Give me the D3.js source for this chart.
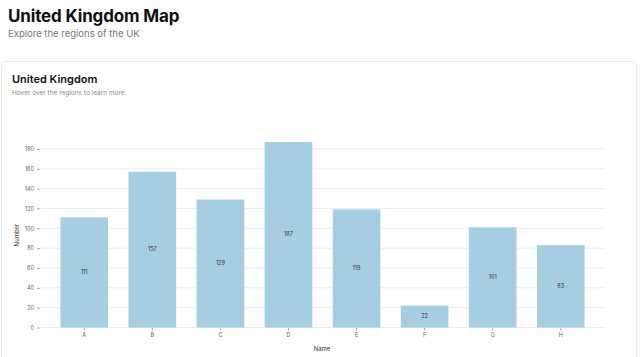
<!DOCTYPE html>
<html><head><meta charset="utf-8">
<script src="https://cdn.jsdelivr.net/npm/d3@7"></script>
<style>
html,body{margin:0;padding:0;background:#fff;font-family:Inter,"Noto Sans",sans-serif;overflow:hidden;}
#title{position:absolute;left:8px;top:6px;font-size:17px;font-weight:700;color:#111;margin:0;line-height:20px;letter-spacing:-0.15px;}
#sub{position:absolute;left:8px;top:28px;font-size:9.5px;color:#777;margin:0;line-height:12px;}
#card{position:absolute;left:1px;top:61px;width:634px;height:320px;border:1px solid #ececec;border-radius:4px;background:#fff;}
#ctitle{position:absolute;left:12px;top:71.5px;font-size:11px;font-weight:600;color:#111;line-height:14px;}
#csub{position:absolute;left:12px;top:89px;font-size:6.5px;color:#888;line-height:8px;}
svg{position:absolute;left:0;top:0;}
</style></head><body>
<div id="title">United Kingdom Map</div>
<div id="sub">Explore the regions of the UK</div>
<div id="card"></div>
<div id="ctitle">United Kingdom</div>
<div id="csub">Hover over the regions to learn more.</div>
<svg id="chart" width="640" height="357"></svg>
<script>
const names = ["A","B","C","D","E","F","G","H"];
const values = [111,157,129,187,119,22,101,83];
const yTicks = [0,20,40,60,80,100,120,140,160,180];

const svg = d3.select("#chart");
const x = d3.scaleBand().domain(names).range([40,605]).padding(0.3);
const y = d3.scaleLinear().domain([0,187]).range([327.5,142]);

// grid
svg.append("g").selectAll("line").data(yTicks).join("line")
  .attr("x1",40).attr("x2",605)
  .attr("y1",d=>y(d)).attr("y2",d=>y(d))
  .attr("stroke","#eeeeee").attr("stroke-width",1);

// y axis
const ya = svg.append("g").attr("transform","translate(40,0)")
  .call(d3.axisLeft(y).tickValues(yTicks).tickSize(3).tickPadding(3));
ya.select(".domain").remove();
ya.selectAll("line").attr("stroke","#aaa");
ya.selectAll("text").attr("font-size",5.5).attr("fill","#666").attr("font-family","Inter,sans-serif");

// x axis
const xa = svg.append("g").attr("transform","translate(0,327.5)")
  .call(d3.axisBottom(x).tickSize(3).tickPadding(3));
xa.select(".domain").remove();
xa.selectAll("line").attr("stroke","#aaa");
xa.selectAll("text").attr("font-size",5.5).attr("fill","#666").attr("font-family","Inter,sans-serif");

const data = names.map((n,i)=>({n, v: values[i]}));
svg.append("g").selectAll("rect").data(data).join("rect")
  .attr("x",d=>x(d.n)).attr("width",x.bandwidth())
  .attr("y",d=>y(d.v)).attr("height",d=>y(0)-y(d.v))
  .attr("fill","#a6cee3");

svg.append("g").selectAll("text").data(data).join("text")
  .attr("x",d=>x(d.n)+x.bandwidth()/2)
  .attr("y",d=>(y(d.v)+y(0))/2)
  .attr("text-anchor","middle").attr("dominant-baseline","middle")
  .attr("font-size",5.5).attr("fill","#333").attr("font-family","Inter,sans-serif")
  .text(d=>d.v);

svg.append("text").attr("transform","translate(19,235) rotate(-90)")
  .attr("text-anchor","middle").attr("font-size",6).attr("fill","#333")
  .attr("font-family","Inter,sans-serif").text("Number");
svg.append("text").attr("x",322).attr("y",351)
  .attr("text-anchor","middle").attr("font-size",6).attr("fill","#333")
  .attr("font-family","Inter,sans-serif").text("Name");
</script>
</body></html>
